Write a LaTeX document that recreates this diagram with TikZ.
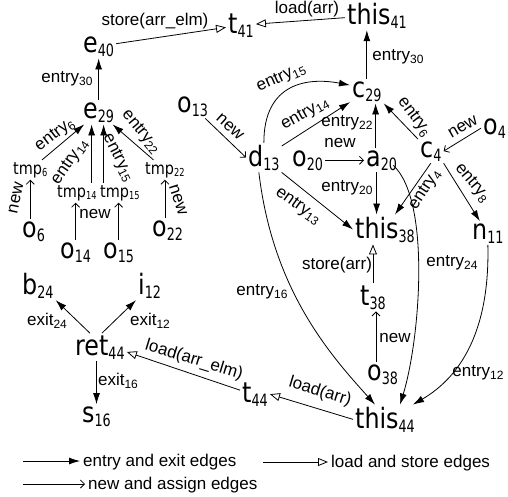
\documentclass[tikz,border=0pt]{standalone}
\usepackage{fontspec}
\setmainfont{Liberation Sans}
\newfontfamily\dvsans[FakeStretch=0.85]{DejaVu Sans}
\newfontfamily\dvnarrow[FakeStretch=0.75]{DejaVu Sans}
\usetikzlibrary{arrows.meta,calc}

% variable names with subscripts
\newcommand\vn[2]{{\dvsans\fontsize{28}{28}\selectfont #1}\raisebox{-4pt}{\dvnarrow\fontsize{17}{17}\selectfont #2}}
\newcommand\tn[2]{{\dvsans\fontsize{17}{17}\selectfont #1}\raisebox{-2.5pt}{\dvnarrow\fontsize{11}{11}\selectfont #2}}
% subscript in edge labels
\newcommand\ls[1]{\raisebox{-3pt}{\fontsize{12}{12}\selectfont #1}}

\tikzset{
  var/.style={anchor=base west, inner sep=2pt},
  lbl/.style={font=\fontsize{17}{17}\selectfont, inner sep=0pt},
  entry/.style={draw, line width=0.8pt, -{Latex[length=11pt,width=7pt]}},
  assign/.style={draw, line width=0.8pt, -{Straight Barb[length=4pt,width=8pt]}},
  access/.style={draw, line width=0.8pt, -{Triangle[open,length=10pt,width=8pt]}},
}

\begin{document}
\begin{tikzpicture}[x=1pt,y=-1pt]
\fill[white] (0,0) rectangle (508,496);
\useasboundingbox (0,0) rectangle (508,496);

% ---- nodes ----
\node[var] (t41)    at (226,33)  {\vn{t}{41}};
\node[var] (this41) at (345,24)  {\vn{this}{41}};
\node[var] (e40)    at (81,52)   {\vn{e}{40}};
\node[var] (e29)    at (81,118)  {\vn{e}{29}};
\node[var] (c29)    at (350,97)  {\vn{c}{29}};
\node[var] (o13)    at (175,112) {\vn{o}{13}};
\node[var] (d13)    at (246,166) {\vn{d}{13}};
\node[var] (o20)    at (290,166) {\vn{o}{20}};
\node[var] (a20)    at (364,166) {\vn{a}{20}};
\node[var] (c4)     at (418,157) {\vn{c}{4}};
\node[var] (o4)     at (481,134) {\vn{o}{4}};
\node[var] (tmp6)   at (11,174)  {\tn{tmp}{6}};
\node[var] (tmp14)  at (55,197)  {\tn{tmp}{14}};
\node[var] (tmp15)  at (98,197)  {\tn{tmp}{15}};
\node[var] (tmp22)  at (143,174) {\tn{tmp}{22}};
\node[var] (o6)     at (20,237)  {\vn{o}{6}};
\node[var] (o14)    at (58,258)  {\vn{o}{14}};
\node[var] (o15)    at (101,258) {\vn{o}{15}};
\node[var] (o22)    at (150,236) {\vn{o}{22}};
\node[var] (b24)    at (20,294)  {\vn{b}{24}};
\node[var] (i12)    at (136,294) {\vn{i}{12}};
\node[var] (this38) at (353,238) {\vn{this}{38}};
\node[var] (n11)    at (470,239) {\vn{n}{11}};
\node[var] (t38)    at (358,305) {\vn{t}{38}};
\node[var] (o38)    at (365,380) {\vn{o}{38}};
\node[var] (t44)    at (240,402) {\vn{t}{44}};
\node[var] (this44) at (353,428) {\vn{this}{44}};
\node[var] (ret44)  at (73,355)  {\vn{ret}{44}};
\node[var] (s16)    at (80,422)  {\vn{s}{16}};

% ---- load / store edges ----
\draw[access] (e40) -- (t41)
  node[lbl] at (155,21) {store(arr\_elm)};
\draw[access] (this41) -- (t41)
  node[lbl] at (307,9) {load(arr)};
\draw[access] (t38.north) -- (t38.north |- this38.south)
  node[lbl] at (337,265) {store(arr)};
\draw[access] (this44.west) -- (t44.east)
  node[lbl, rotate=-17] at (320,392) {load(arr)};
\draw[access] (t44.165) -- (ret44.-10)
  node[lbl, rotate=-17] at (194,360) {load(arr\_elm)};

% ---- new edges ----
\draw[assign] (tmp6.south |- o6.north) -- (tmp6.south)
  node[lbl, rotate=78] at (16,198) {new};
\draw[assign] (o14.north) -- (o14.north |- tmp14.south);
\draw[assign] (o15.north) -- (o15.north |- tmp15.south)
  node[lbl] at (95,214) {new};
\draw[assign] (tmp22.south |- o22.north) -- (tmp22.south)
  node[lbl, rotate=-72] at (178,200) {new};
\draw[assign] (o13) -- (d13.west)
  node[lbl, rotate=-42] at (230,127) {new};
\draw[assign] (o20) -- (a20)
  node[lbl] at (340,143) {new};
\draw[assign] (o4.west) -- (c4.east)
  node[lbl, rotate=30] at (463,127) {new};
\draw[assign] ($(t38.south |- o38.north)+(3,0)$) -- ($(t38.south)+(3,0)$)
  node[lbl] at (395,338) {new};

% ---- entry edges, left group ----
\draw[entry] (e29) -- (e40)
  node[lbl] at (67,79) {entry\ls{30}};
\draw[entry] (tmp6) -- (e29)
  node[lbl, rotate=37] at (55,135) {entry\ls{6}};
\draw[entry] ($(tmp14.north -| e29.south)+(-7,0)$) -- ($(e29.south)+(-7,0)$)
  node[lbl, rotate=55] at (70,162) {entry\ls{14}};
\draw[entry] ($(tmp15.north -| e29.south)+(5,0)$) -- ($(e29.south)+(5,0)$)
  node[lbl, rotate=-63] at (118,158) {entry\ls{15}};
\draw[entry] (tmp22) -- (e29)
  node[lbl, rotate=-50] at (141,132) {entry\ls{22}};

% ---- entry edges, right group ----
\draw[entry] (c29.north) -- (c29.north |- this41.south)
  node[lbl] at (398,57) {entry\ls{30}};
\draw[entry] (d13) -- (c29)
  node[lbl, rotate=29] at (305,114) {entry\ls{14}};
\draw[entry] (d13.north) .. controls ($(d13.north)+(0,-60)$) and ($(c29.160)+(-42,-8)$) .. (c29.160)
  node[lbl, rotate=24] at (281,78) {entry\ls{15}};
\draw[entry] ($(a20.north)+(-6,0)$) -- ($(a20.north |- c29.south)+(-6,0)$)
  node[lbl] at (347,123) {entry\ls{22}};
\draw[entry] (c4.north west) -- (c29.south east)
  node[lbl, rotate=-53] at (414,117) {entry\ls{6}};
\draw[entry] (d13.south east) -- (this38.west)
  node[lbl, rotate=-35] at (298,206) {entry\ls{13}};
\draw[entry] ($(a20.south)+(-5,0)$) -- ($(a20.south |- this38.north)+(-5,0)$)
  node[lbl] at (347,188) {entry\ls{20}};
\draw[entry] (c4.south) -- ($(this38.north)+(10,0)$)
  node[lbl, rotate=57] at (425,190) {entry\ls{4}};
\draw[entry] (c4.south east) -- ($(n11.north)+(-8,0)$)
  node[lbl, rotate=-50] at (472,183) {entry\ls{8}};
\draw[entry] ($(d13.south)+(-5,0)$) .. controls ($(d13.south)+(9,118)$) and ($(this44.north)+(-55,-50)$) .. ($(this44.north)+(-10,0)$)
  node[lbl] at (262,292) {entry\ls{16}};
\draw[entry] ($(a20.east)+(-6,5)$) .. controls ($(a20.east)+(32,40)$) and ($(this44.north)+(35,-65)$) .. ($(this44.north)+(15,0)$)
  node[lbl] at (452,263) {entry\ls{24}};
\draw[entry] (n11.south) .. controls ($(n11.south)+(2,85)$) and ($(this44.north east)+(44,-28)$) .. ($(this44.north east)+(-4,0)$)
  node[lbl] at (478,373) {entry\ls{12}};

% ---- exit edges ----
\draw[entry] ($(ret44.north)+(-10,0)$) -- (b24.south east)
  node[lbl] at (47,321) {exit\ls{24}};
\draw[entry] ($(ret44.north)+(2,0)$) -- (i12.south west)
  node[lbl] at (150,321) {exit\ls{12}};
\draw[entry] (s16.north |- ret44.south) -- (s16.north)
  node[lbl] at (118,381) {exit\ls{16}};

% ---- legend ----
\coordinate (k1) at (23,461);
\coordinate (k2) at (23,484);
\coordinate (k3) at (263,462);
\node[lbl, anchor=west] (K1) at (83,462) {entry and exit edges};
\node[lbl, anchor=west] (K2) at (88,485) {new and assign edges};
\node[lbl, anchor=west] (K3) at (331,463) {load and store edges};
\draw[entry,  shorten >=3pt] (k1) -- (k1 -| K1.west);
\draw[assign, shorten >=3pt] (k2) -- (k2 -| K2.west);
\draw[access, shorten >=3pt] (k3) -- (k3 -| K3.west);
\end{tikzpicture}
\end{document}
